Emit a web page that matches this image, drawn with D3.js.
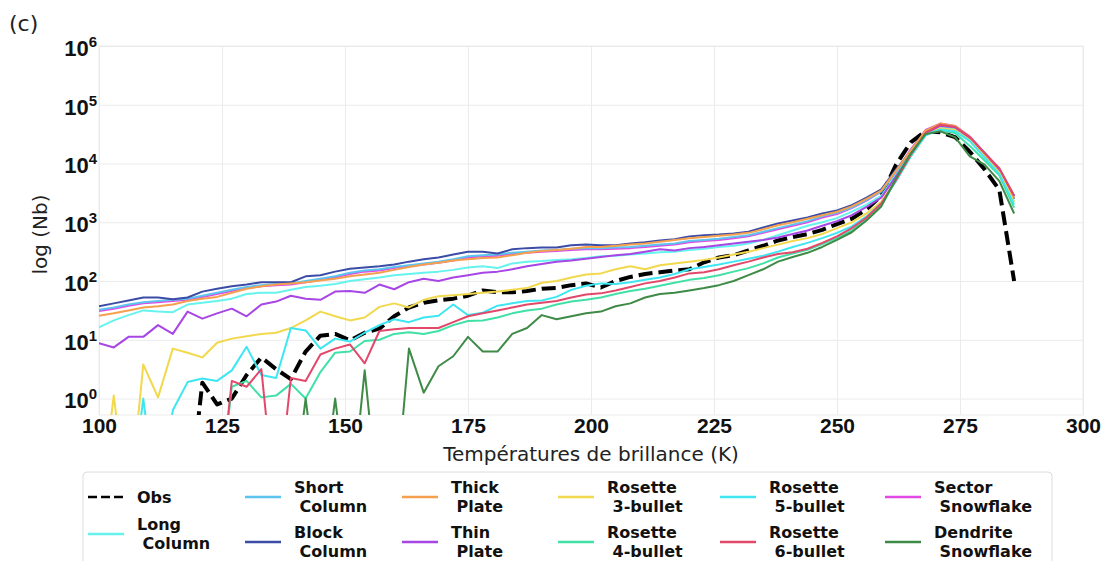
<!DOCTYPE html>
<html>
<head>
<meta charset="utf-8">
<script src="https://cdn.jsdelivr.net/npm/d3@7"></script>
<style>
  body { margin: 0; background: #fff; }
  svg { font-family: "DejaVu Sans", sans-serif; }
  .grid line { stroke: #ebebeb; stroke-width: 1; }
  .grid .domain { display: none; }
  .axis .domain { display: none; }
  .axis text { font-weight: bold; fill: #111; }
  .x-axis text { font-size: 21px; }
  .y-axis text { font-size: 22px; }
</style>
</head>
<body>
<div id="svg-container"></div>
<script>
// temperature bins (K)
const temps = [100,103,106,109,112,115,118,121,124,127,130,133,136,139,142,145,148,151,154,157,
  160,163,166,169,172,175,178,181,184,187,190,193,196,199,202,205,208,211,214,217,
  220,223,226,229,232,235,238,241,244,247,250,253,256,259,262,265,268,271,274,277,
  280,283,286];

// log10(Nb) per bin, null = zero count
const obs = [null,null,null,null,null,null,null,0.27,-0.1,0.0,0.4,0.7,0.5,0.33,0.8,1.07,1.1,0.99,1.12,1.19,
  1.4,1.55,1.63,1.67,1.7,1.75,1.84,1.81,1.81,1.83,1.87,1.88,1.93,1.96,1.89,2.0,2.07,2.12,2.15,2.18,
  2.2,2.32,2.4,2.44,2.52,2.6,2.69,2.75,2.8,2.87,2.97,3.06,3.22,3.45,3.98,4.36,4.55,4.53,4.45,4.2,
  3.9,3.55,2.0];
const longColumn = [1.21,1.33,1.42,1.5,1.48,1.47,1.6,1.63,1.66,1.7,1.78,1.8,1.8,1.85,1.9,1.92,1.95,2.0,2.03,2.06,
  2.1,2.12,2.14,2.16,2.19,2.23,2.25,2.22,2.3,2.33,2.34,2.36,2.37,2.39,2.42,2.43,2.45,2.47,2.49,2.5,
  2.53,2.55,2.58,2.6,2.64,2.7,2.78,2.86,2.94,3.0,3.07,3.18,3.3,3.45,3.8,4.2,4.52,4.62,4.58,4.42,
  4.15,3.85,3.35];
const shortColumn = [1.51,1.55,1.6,1.64,1.66,1.68,1.7,1.75,1.8,1.85,1.9,1.93,1.95,1.96,2.0,2.04,2.08,2.14,2.18,2.2,
  2.24,2.27,2.3,2.33,2.37,2.42,2.44,2.45,2.48,2.5,2.52,2.53,2.55,2.56,2.56,2.57,2.58,2.6,2.62,2.64,
  2.68,2.7,2.72,2.75,2.78,2.84,2.9,2.96,3.02,3.1,3.16,3.25,3.38,3.52,3.85,4.22,4.55,4.65,4.6,4.42,
  4.15,3.88,3.4];
const blockColumn = [1.57,1.62,1.67,1.72,1.72,1.69,1.72,1.82,1.87,1.91,1.94,1.98,1.98,1.98,2.08,2.10,2.16,2.21,2.23,2.25,
  2.28,2.33,2.37,2.40,2.45,2.50,2.50,2.47,2.54,2.56,2.57,2.57,2.61,2.62,2.61,2.61,2.64,2.66,2.69,2.71,
  2.76,2.78,2.79,2.81,2.84,2.91,2.98,3.03,3.08,3.15,3.20,3.29,3.42,3.56,3.9,4.2,4.55,4.67,4.63,4.43,
  4.14,3.88,3.40];
const thickPlate = [1.41,1.45,1.5,1.55,1.57,1.6,1.66,1.7,1.73,1.8,1.87,1.91,1.94,1.96,1.98,2.01,2.04,2.08,2.11,2.14,
  2.19,2.24,2.28,2.31,2.35,2.37,2.39,2.4,2.44,2.48,2.51,2.53,2.55,2.58,2.58,2.6,2.62,2.64,2.67,2.7,
  2.73,2.75,2.77,2.79,2.82,2.88,2.95,3.0,3.06,3.12,3.18,3.27,3.4,3.54,3.88,4.22,4.56,4.68,4.64,4.45,
  4.17,3.9,3.42];
const thinPlate = [0.94,0.87,1.05,1.05,1.25,1.1,1.48,1.36,1.45,1.53,1.4,1.6,1.65,1.75,1.7,1.68,1.82,1.83,1.8,1.94,
  1.86,1.98,2.04,2.0,2.06,2.1,2.14,2.16,2.2,2.25,2.29,2.33,2.35,2.38,2.41,2.44,2.46,2.5,2.54,2.52,
  2.56,2.58,2.61,2.64,2.67,2.7,2.74,2.8,2.86,2.94,3.02,3.12,3.26,3.42,3.78,4.15,4.5,4.64,4.62,4.44,
  4.18,3.9,3.45];
const rosette3 = [null,0.05,null,0.58,0.02,0.85,0.78,0.7,0.95,1.02,1.06,1.1,1.12,1.2,1.33,1.48,1.4,1.33,1.38,1.56,
  1.62,1.55,1.68,1.74,1.76,1.78,1.8,1.82,1.85,1.88,1.97,2.0,2.06,2.11,2.13,2.2,2.25,2.2,2.27,2.3,
  2.33,2.36,2.4,2.45,2.5,2.56,2.62,2.68,2.73,2.8,2.9,3.0,3.15,3.35,3.72,4.12,4.48,4.6,4.57,4.4,
  4.12,3.85,3.35];
const rosette4 = [null,null,null,null,null,null,null,null,null,0.2,0.3,0.02,0.05,0.25,0.0,0.45,0.78,0.8,0.98,1.0,
  1.1,1.13,1.1,1.15,1.25,1.32,1.33,1.38,1.45,1.5,1.53,1.6,1.65,1.68,1.72,1.78,1.83,1.87,1.92,1.97,
  2.02,2.05,2.1,2.16,2.22,2.3,2.4,2.47,2.53,2.63,2.73,2.86,3.05,3.28,3.72,4.15,4.5,4.57,4.52,4.3,
  4.05,3.8,3.25];
const rosette5 = [null,null,null,0.0,null,-0.2,0.28,0.34,0.3,0.48,0.88,0.4,0.35,1.2,1.16,0.85,1.02,0.97,1.12,1.25,
  1.35,1.3,1.38,1.41,1.6,1.42,1.46,1.58,1.62,1.66,1.67,1.73,1.85,1.92,1.96,1.95,1.98,2.02,2.06,2.12,
  2.2,2.24,2.28,2.33,2.38,2.43,2.5,2.58,2.65,2.73,2.82,2.93,3.1,3.32,3.7,4.12,4.48,4.58,4.55,4.38,
  4.1,3.82,3.3];
const rosette6 = [null,null,null,null,null,null,null,null,null,0.3,0.2,0.5,null,0.35,0.3,0.75,0.85,0.92,0.6,1.15,
  1.18,1.2,1.2,1.2,1.3,1.4,1.45,1.5,1.55,1.6,1.63,1.66,1.72,1.77,1.79,1.84,1.9,1.96,2.0,2.06,
  2.13,2.15,2.2,2.27,2.33,2.4,2.46,2.49,2.55,2.65,2.76,2.9,3.08,3.32,3.72,4.15,4.52,4.66,4.62,4.45,
  4.18,3.92,3.45];
const sectorSnowflake = [1.49,1.53,1.58,1.62,1.64,1.66,1.68,1.73,1.78,1.83,1.88,1.91,1.93,1.94,1.98,2.02,2.06,2.12,2.16,2.18,
  2.22,2.25,2.28,2.31,2.35,2.4,2.42,2.43,2.46,2.48,2.5,2.51,2.53,2.54,2.54,2.55,2.56,2.58,2.6,2.62,
  2.66,2.68,2.7,2.73,2.76,2.82,2.88,2.94,3.0,3.08,3.14,3.24,3.37,3.52,3.86,4.24,4.57,4.68,4.64,4.46,
  4.18,3.9,3.44];
const dendrite = [null,null,null,null,null,null,null,null,null,null,null,null,null,null,0.0,null,0.0,null,0.48,null,
  null,0.85,0.1,0.55,0.72,1.05,0.8,0.8,1.1,1.2,1.42,1.35,1.4,1.45,1.48,1.57,1.62,1.72,1.78,1.8,
  1.84,1.88,1.93,2.0,2.1,2.2,2.33,2.41,2.48,2.58,2.7,2.83,3.03,3.27,3.75,4.17,4.5,4.55,4.45,4.12,
  3.98,3.7,3.15];

const xTicks = [100,125,150,175,200,225,250,275,300];
const yTicks = [1,10,100,1000,10000,100000,1000000];

// series in drawing order; leg = position in the legend (column by column)
const series = [
  { name: ["Sector", " Snowflake"], data: sectorSnowflake, color: "#e449e6", leg: 10 },
  { name: ["Obs"], data: obs, color: "#000000", dash: true, leg: 0 },
  { name: ["Long", " Column"], data: longColumn, color: "#66f3ee", leg: 1 },
  { name: ["Short", " Column"], data: shortColumn, color: "#5cc4ee", leg: 2 },
  { name: ["Block", " Column"], data: blockColumn, color: "#3b4ca6", leg: 3 },
  { name: ["Thick", " Plate"], data: thickPlate, color: "#f4a04e", leg: 4 },
  { name: ["Thin", " Plate"], data: thinPlate, color: "#a746e4", leg: 5 },
  { name: ["Rosette", " 3-bullet"], data: rosette3, color: "#f2d84c", leg: 6 },
  { name: ["Rosette", " 4-bullet"], data: rosette4, color: "#40e0a6", leg: 7 },
  { name: ["Rosette", " 5-bullet"], data: rosette5, color: "#3ee6f2", leg: 8 },
  { name: ["Rosette", " 6-bullet"], data: rosette6, color: "#e2486a", leg: 9 },
  { name: ["Dendrite", " Snowflake"], data: dendrite, color: "#3f8a47", leg: 11 }
];

////////////////////////////  Init  ///////////////////////////////
const width = 1106, height = 561;
const margin = { top: 46, right: 23, bottom: 146, left: 99 };

const svg = d3.select("#svg-container").append("svg")
  .attr("width", width).attr("height", height);

const xScale = d3.scaleLinear().domain([100, 300]).range([margin.left, width - margin.right]);
const yScale = d3.scaleLog().domain([Math.pow(10, -0.28), 1e6]).range([height - margin.bottom, margin.top]);

const plotH = height - margin.bottom - margin.top;
const plotW = width - margin.right - margin.left;

// grid
svg.append("g").attr("class", "grid")
  .attr("transform", `translate(0,${height - margin.bottom})`)
  .call(d3.axisBottom(xScale).tickValues(xTicks).tickSize(-plotH).tickFormat(""));
svg.append("g").attr("class", "grid")
  .attr("transform", `translate(${margin.left},0)`)
  .call(d3.axisLeft(yScale).tickValues(yTicks).tickSize(-plotW).tickFormat(""));

svg.append("rect")
  .attr("x", margin.left).attr("y", margin.top)
  .attr("width", plotW).attr("height", plotH)
  .attr("fill", "none").attr("stroke", "#ebebeb");

// axes
svg.append("g").attr("class", "axis x-axis")
  .attr("transform", `translate(0,${height - margin.bottom})`)
  .call(d3.axisBottom(xScale).tickValues(xTicks).tickSize(0).tickPadding(3));

const yAxisG = svg.append("g").attr("class", "axis y-axis")
  .attr("transform", `translate(${margin.left},0)`)
  .call(d3.axisLeft(yScale).tickValues(yTicks).tickSize(0).tickPadding(2).tickFormat(""));

// 10 + exposant
yAxisG.selectAll(".tick text").each(function (d) {
  const t = d3.select(this).attr("dy", "0.42em");
  t.append("tspan").text("10");
  t.append("tspan").attr("dy", "-9").attr("font-size", "15px").text(Math.round(Math.log10(d)));
});

// lines
svg.append("clipPath").attr("id", "clip")
  .append("rect")
  .attr("x", margin.left).attr("y", margin.top)
  .attr("width", plotW).attr("height", plotH);

const line = d3.line()
  .x((d, i) => xScale(temps[i]))
  .y((d) => (d === null ? yScale(0.01) : yScale(Math.pow(10, d))));

const lineG = svg.append("g").attr("clip-path", "url(#clip)");
series.forEach((s) => {
  lineG.append("path")
    .datum(s.data)
    .attr("d", line)
    .attr("fill", "none")
    .attr("stroke", s.color)
    .attr("stroke-width", s.dash ? 4 : 2)
    .attr("stroke-dasharray", s.dash ? "14,6" : null)
    .attr("stroke-linejoin", "round");
});

// labels
svg.append("text")
  .attr("x", (margin.left + width - margin.right) / 2).attr("y", 461)
  .attr("text-anchor", "middle").attr("font-size", "20px").attr("fill", "#222")
  .text("Températures de brillance (K)");

svg.append("text")
  .attr("transform", `translate(47,${(margin.top + height - margin.bottom) / 2 + 4}) rotate(-90)`)
  .attr("text-anchor", "middle").attr("font-size", "20px").attr("fill", "#222")
  .text("log (Nb)");

svg.append("text")
  .attr("x", 9).attr("y", 31)
  .attr("font-size", "22px").attr("fill", "#222")
  .text("(c)");

// legend
svg.append("rect")
  .attr("x", 83).attr("y", 472).attr("width", 969).attr("height", 100)
  .attr("rx", 4).attr("fill", "#fff").attr("stroke", "#dcdcdc");

const colX = [88, 245, 402, 558, 720, 885];
const rowY = [[497, 534], [497, 542], [497, 542], [497, 542], [497, 542], [497, 542]];

series.forEach((s) => {
  const col = Math.floor(s.leg / 2), row = s.leg % 2;
  const x0 = colX[col], y0 = rowY[col][row];
  const g = svg.append("g");
  g.append("line")
    .attr("x1", x0).attr("x2", x0 + 36).attr("y1", y0).attr("y2", y0)
    .attr("stroke", s.color)
    .attr("stroke-width", 2.6)
    .attr("stroke-dasharray", s.dash ? "9,4" : null);
  const txt = g.append("text")
    .attr("font-size", "16px").attr("font-weight", "bold").attr("fill", "#111")
    .style("white-space", "pre");
  if (s.name.length === 1) {
    txt.append("tspan").attr("x", x0 + 49).attr("y", y0 + 6).text(s.name[0]);
  } else {
    txt.append("tspan").attr("x", x0 + 49).attr("y", y0 - 4.5).text(s.name[0]);
    txt.append("tspan").attr("x", x0 + 49).attr("y", y0 + 15).text(s.name[1]);
  }
});
</script>
</body>
</html>
